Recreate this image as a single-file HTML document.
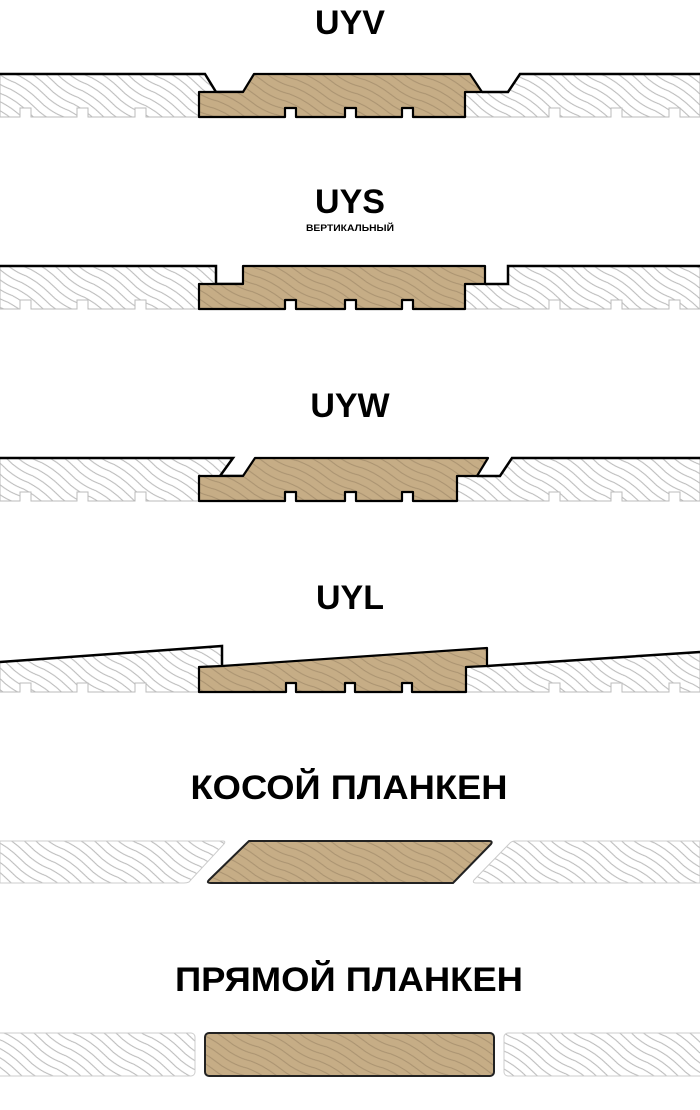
<!DOCTYPE html>
<html><head><meta charset="utf-8">
<style>
html,body{margin:0;padding:0;background:#fff;}
svg{display:block;}
text{font-family:"Liberation Sans",sans-serif;font-weight:bold;fill:#000;text-anchor:middle;}
</style></head>
<body>
<svg width="700" height="1110" viewBox="0 0 700 1110" xmlns="http://www.w3.org/2000/svg">
<defs>
<pattern id="h" width="60" height="8" patternUnits="userSpaceOnUse" patternTransform="rotate(35)">
<rect width="60" height="8" fill="#fff"/>
<path d="M0 3 Q15 1 30 4 T60 3" fill="none" stroke="#b8b8b8" stroke-width="1"/>
</pattern>
<pattern id="w" width="60" height="8" patternUnits="userSpaceOnUse" patternTransform="rotate(28)">
<rect width="60" height="8" fill="#c6ad86"/>
<path d="M0 3 Q15 1 30 4 T60 3" fill="none" stroke="#a99270" stroke-width="1"/>
</pattern>
</defs>

<text x="350" y="34" font-size="34">UYV</text>
<text x="350" y="213" font-size="34">UYS</text>
<text x="350" y="231" font-size="9" textLength="88" lengthAdjust="spacingAndGlyphs">ВЕРТИКАЛЬНЫЙ</text>
<text x="350" y="417" font-size="34">UYW</text>
<text x="350" y="609" font-size="34">UYL</text>
<text x="349" y="799" font-size="34" textLength="317" lengthAdjust="spacingAndGlyphs">КОСОЙ ПЛАНКЕН</text>
<text x="349" y="991" font-size="34" textLength="348" lengthAdjust="spacingAndGlyphs">ПРЯМОЙ ПЛАНКЕН</text>

<!-- UYV -->
<g>
<path d="M0 74 L205 74 L216 92 L199 92 L199 117 L146 117 L146 108 L135 108 L135 117 L88 117 L88 108 L77 108 L77 117 L31 117 L31 108 L20 108 L20 117 L0 117Z" fill="url(#h)" stroke="#bbb" stroke-width="1"/>
<path d="M465 92 L482 92 L508 92 L520 74 L700 74 L700 117 L680 117 L680 108 L669 108 L669 117 L622 117 L622 108 L611 108 L611 117 L560 117 L560 108 L549 108 L549 117 L465 117Z" fill="url(#h)" stroke="#bbb" stroke-width="1"/>
<path d="M0 74 L205 74 L216 92 L243 92 M482 92 L508 92 L520 74 L700 74" fill="none" stroke="#000" stroke-width="2.5"/>
<path d="M199 92 L243 92 L254 74 L470 74 L482 92 L465 92 L465 117 L413 117 L413 108 L402 108 L402 117 L356 117 L356 108 L345 108 L345 117 L296 117 L296 108 L285 108 L285 117 L199 117Z" fill="url(#w)" stroke="#000" stroke-width="2.2" stroke-linejoin="round"/>
</g>

<!-- UYS -->
<g>
<path d="M0 266 L216 266 L216 284 L199 284 L199 309 L146 309 L146 300 L135 300 L135 309 L88 309 L88 300 L77 300 L77 309 L31 309 L31 300 L20 300 L20 309 L0 309Z" fill="url(#h)" stroke="#bbb" stroke-width="1"/>
<path d="M465 284 L508 284 L508 266 L700 266 L700 309 L680 309 L680 300 L669 300 L669 309 L622 309 L622 300 L611 300 L611 309 L560 309 L560 300 L549 300 L549 309 L465 309Z" fill="url(#h)" stroke="#bbb" stroke-width="1"/>
<path d="M0 266 L216 266 L216 284 L243 284 M485 284 L508 284 L508 266 L700 266" fill="none" stroke="#000" stroke-width="2.5"/>
<path d="M199 284 L243 284 L243 266 L485 266 L485 284 L465 284 L465 309 L413 309 L413 300 L402 300 L402 309 L356 309 L356 300 L345 300 L345 309 L296 309 L296 300 L285 300 L285 309 L199 309Z" fill="url(#w)" stroke="#000" stroke-width="2.2" stroke-linejoin="round"/>
</g>

<!-- UYW -->
<g>
<path d="M0 458 L233 458 L220 476 L199 476 L199 501 L146 501 L146 492 L135 492 L135 501 L88 501 L88 492 L77 492 L77 501 L31 501 L31 492 L20 492 L20 501 L0 501Z" fill="url(#h)" stroke="#bbb" stroke-width="1"/>
<path d="M457 476 L500 476 L512 458 L700 458 L700 501 L680 501 L680 492 L669 492 L669 501 L622 501 L622 492 L611 492 L611 501 L560 501 L560 492 L549 492 L549 501 L457 501Z" fill="url(#h)" stroke="#bbb" stroke-width="1"/>
<path d="M0 458 L233 458 L220 476 L243 476 M477 476 L500 476 L512 458 L700 458" fill="none" stroke="#000" stroke-width="2.5"/>
<path d="M199 476 L243 476 L255 458 L488 458 L477 476 L457 476 L457 501 L413 501 L413 492 L402 492 L402 501 L356 501 L356 492 L345 492 L345 501 L296 501 L296 492 L285 492 L285 501 L199 501Z" fill="url(#w)" stroke="#000" stroke-width="2.2" stroke-linejoin="round"/>
</g>

<!-- UYL -->
<g>
<path d="M0 662 L222 646 L222 666 L199 667 L199 692 L146 692 L146 683 L135 683 L135 692 L88 692 L88 683 L77 683 L77 692 L31 692 L31 683 L20 683 L20 692 L0 692Z" fill="url(#h)" stroke="#bbb" stroke-width="1"/>
<path d="M466 667 L487 666 L700 652 L700 692 L680 692 L680 683 L669 683 L669 692 L622 692 L622 683 L611 683 L611 692 L560 692 L560 683 L549 683 L549 692 L466 692Z" fill="url(#h)" stroke="#bbb" stroke-width="1"/>
<path d="M0 662 L222 646 L222 666 M487 666 L700 652" fill="none" stroke="#000" stroke-width="2.5"/>
<path d="M199 667 L222 666 L487 648 L487 666 L466 667 L466 692 L412 692 L412 683 L402 683 L402 692 L355 692 L355 683 L345 683 L345 692 L296 692 L296 683 L286 683 L286 692 L199 692Z" fill="url(#w)" stroke="#000" stroke-width="2.2" stroke-linejoin="round"/>
</g>

<!-- КОСОЙ -->
<g>
<path d="M0 841 L223 841 Q226 841 224 844 L189 882 Q187 883 184 883 L0 883Z" fill="url(#h)" stroke="#ccc" stroke-width="1"/>
<path d="M515 841 L700 841 L700 883 L476 883 Q472 883 474 880 L510 843 Q512 841 515 841Z" fill="url(#h)" stroke="#ccc" stroke-width="1"/>
<path d="M249 841 L489 841 Q493 841 491 844 L453 883 L211 883 Q206 883 209 880 Z" fill="url(#w)" stroke="#222" stroke-width="2" stroke-linejoin="round"/>
</g>

<!-- ПРЯМОЙ -->
<g>
<rect x="-5" y="1033" width="200" height="43" rx="4" fill="url(#h)" stroke="#ccc" stroke-width="1"/>
<rect x="504" y="1033" width="205" height="43" rx="4" fill="url(#h)" stroke="#ccc" stroke-width="1"/>
<rect x="205" y="1033" width="289" height="43" rx="4" fill="url(#w)" stroke="#222" stroke-width="2"/>
</g>
</svg>
</body></html>
